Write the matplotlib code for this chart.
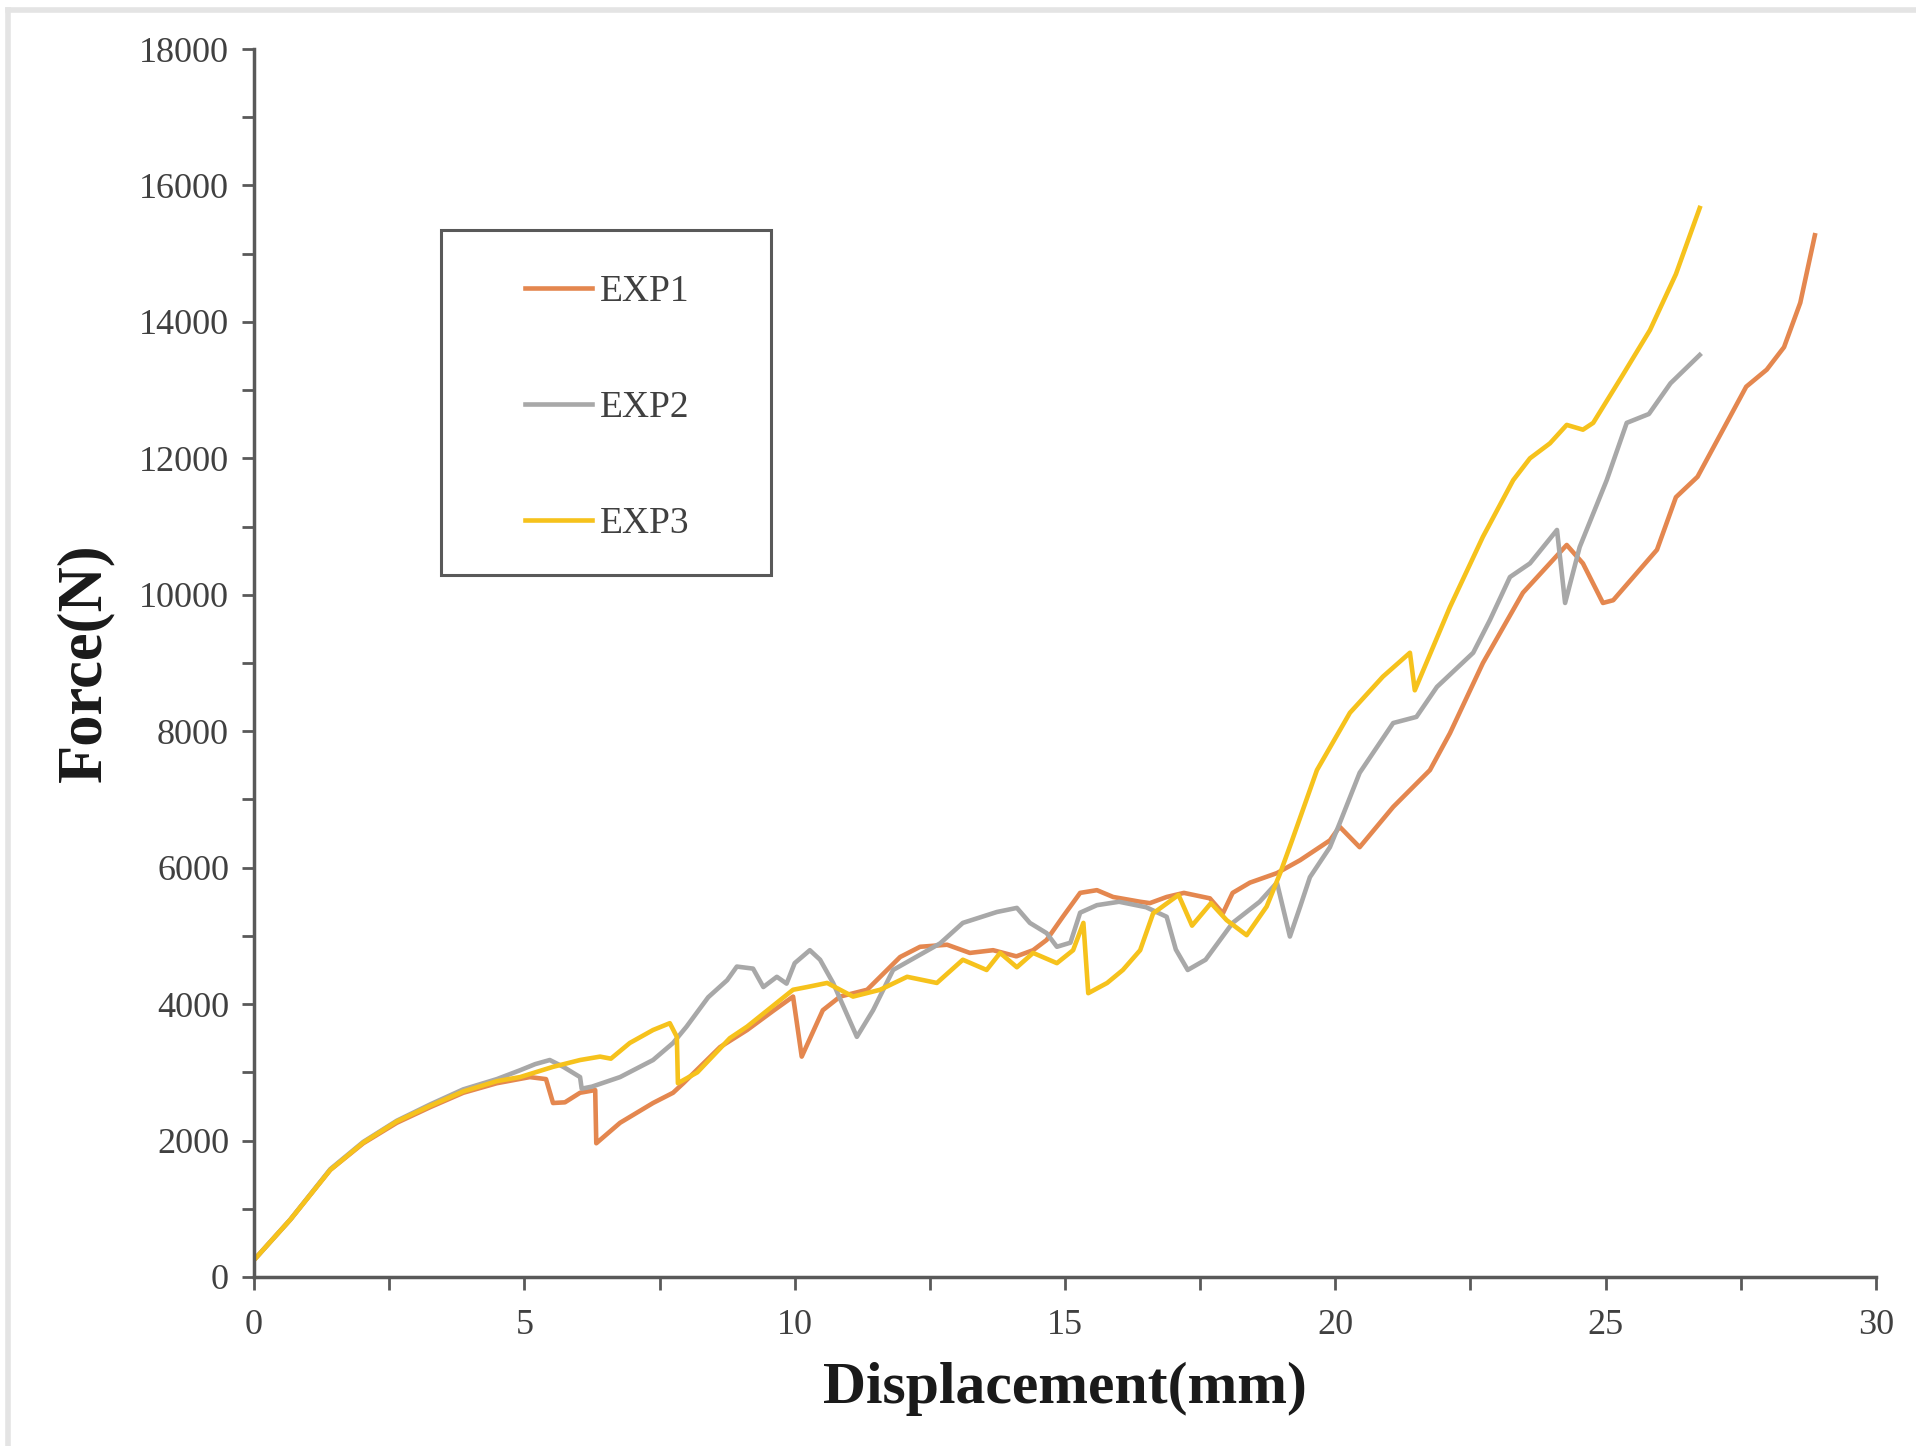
import numpy as np
import matplotlib
matplotlib.use("Agg")
import matplotlib.pyplot as plt
from matplotlib.lines import Line2D

plt.rcParams['font.family'] = ['Liberation Serif', 'DejaVu Serif']

# Force-displacement curves
exp1_x = [0.0, 0.67, 1.41, 2.02, 2.64, 3.26, 3.87, 4.49, 5.1, 5.4, 5.53, 5.75, 6.03, 6.31,
          6.33, 6.77, 7.38, 7.75, 7.94, 8.62, 9.12, 9.6, 9.97, 10.13, 10.52, 10.84, 11.34,
          11.95, 12.32, 12.82, 13.24, 13.67, 14.1, 14.41, 14.66, 14.96, 15.28, 15.59, 15.89,
          16.39, 16.57, 16.88, 17.2, 17.68, 17.92, 18.1, 18.42, 18.92, 19.35, 19.9, 20.08,
          20.45, 21.07, 21.75, 22.12, 22.73, 23.47, 24.28, 24.58, 24.95, 25.14, 25.95, 26.3,
          26.7, 27.6, 27.98, 28.3, 28.6, 28.87]
exp1_y = [250, 840, 1570, 1960, 2260, 2490, 2700, 2840, 2930, 2900, 2550, 2560, 2700, 2740,
          1960, 2260, 2550, 2700, 2840, 3370, 3620, 3900, 4110, 3230, 3910, 4110, 4210,
          4690, 4840, 4870, 4750, 4790, 4700, 4790, 4940, 5280, 5630, 5670, 5570,
          5500, 5480, 5570, 5630, 5550, 5330, 5630, 5780, 5920, 6110, 6400, 6600,
          6300, 6890, 7430, 7970, 9000, 10030, 10730, 10460, 9880, 9920, 10660, 11430,
          11730, 13050, 13300, 13630, 14280, 15270]

exp2_x = [0.0, 0.67, 1.41, 2.02, 2.64, 3.26, 3.87, 4.49, 4.92, 5.2, 5.47, 5.72, 6.03, 6.06,
          6.25, 6.77, 7.38, 7.75, 8.0, 8.4, 8.75, 8.93, 9.23, 9.42, 9.67, 9.85, 10.0, 10.28,
          10.47, 10.71, 11.15, 11.45, 11.82, 12.69, 13.11, 13.74, 14.11, 14.35, 14.66, 14.85,
          15.1, 15.28, 15.59, 16.0, 16.5, 16.88, 17.05, 17.27, 17.6, 18.1, 18.6, 18.92, 19.16,
          19.35, 19.53, 19.9, 20.08, 20.45, 21.07, 21.5, 21.88, 22.55, 22.86, 23.23, 23.6,
          24.1, 24.25, 24.52, 25.02, 25.39, 25.8, 26.2, 26.74]
exp2_y = [250, 840, 1580, 1980, 2290, 2530, 2750, 2900, 3030, 3120, 3180, 3080, 2930, 2760,
          2790, 2930, 3180, 3430, 3670, 4100, 4350, 4550, 4520, 4250, 4400, 4300, 4600, 4790,
          4650, 4310, 3520, 3910, 4500, 4890, 5190, 5350, 5410, 5190, 5040, 4840,
          4900, 5340, 5450, 5500, 5420, 5280, 4800, 4500, 4650, 5190, 5500, 5780, 4990,
          5430, 5860, 6300, 6650, 7390, 8120, 8210, 8650, 9150, 9630, 10260, 10460,
          10950, 9880, 10700, 11680, 12520, 12650, 13100, 13515]

exp3_x = [0.0, 0.67, 1.41, 2.02, 2.64, 3.26, 3.87, 4.49, 4.92, 5.53, 6.03, 6.4, 6.6, 6.95,
          7.38, 7.69, 7.82, 7.84, 8.2, 8.8, 9.12, 9.97, 10.23, 10.6, 11.08, 11.58, 12.08,
          12.63, 13.11, 13.55, 13.8, 14.11, 14.41, 14.85, 15.15, 15.34, 15.43, 15.78, 16.07,
          16.39, 16.63, 17.1, 17.35, 17.7, 17.99, 18.36, 18.73, 18.98, 19.2, 19.66, 20.27,
          20.88, 21.38, 21.47, 22.12, 22.73, 23.29, 23.6, 23.97, 24.28, 24.58, 24.77, 25.3,
          25.82, 26.3, 26.74]
exp3_y = [250, 840, 1570, 1970, 2280, 2510, 2720, 2870, 2930, 3080, 3180, 3230, 3200, 3430,
          3620, 3720, 3520, 2840, 3000, 3500, 3670, 4210, 4250, 4310, 4110, 4210, 4400,
          4310, 4650, 4500, 4750, 4540, 4750, 4600, 4790, 5190, 4160, 4310, 4500,
          4790, 5330, 5600, 5150, 5480, 5230, 5010, 5430, 5920, 6400, 7430, 8270,
          8800, 9150, 8600, 9820, 10850, 11680, 12000, 12220, 12490, 12420, 12520, 13200,
          13880, 14700, 15670]

labels = ['EXP1', 'EXP2', 'EXP3']
colors = ['#E4874F', '#A8A8A8', '#F6C21C']

fig = plt.figure(figsize=(19.16, 14.46), dpi=100)
ax = fig.add_axes([0.1326, 0.1169, 0.8465, 0.8492])

ax.plot(exp1_x, exp1_y, color=colors[0], lw=3.3)
ax.plot(exp2_x, exp2_y, color=colors[1], lw=3.3)
ax.plot(exp3_x, exp3_y, color=colors[2], lw=3.3)

ax.set_xlim(0, 30)
ax.set_ylim(0, 18000)

xt = np.arange(0, 30.1, 2.5)
ax.set_xticks(xt)
ax.set_xticklabels([str(int(v)) if v % 5 == 0 else '' for v in xt])
yt = np.arange(0, 18001, 1000)
ax.set_yticks(yt)
ax.set_yticklabels([str(int(v)) if v % 2000 == 0 else '' for v in yt])

for s in ['top', 'right']:
    ax.spines[s].set_visible(False)
for s in ['left', 'bottom']:
    ax.spines[s].set_color('#595959')
    ax.spines[s].set_linewidth(2.5)
ax.tick_params(axis='both', direction='out', length=9, width=2, color='#595959',
               labelcolor='#404040', labelsize=26)
ax.tick_params(axis='x', pad=14)
ax.tick_params(axis='y', pad=9)

ax.set_xlabel('Displacement(mm)', fontsize=43, fontweight='bold', color='#1a1a1a', labelpad=14)
ax.set_ylabel('Force(N)', fontsize=45, fontweight='bold', color='#1a1a1a', labelpad=18)

# legend with a hand-placed frame
handles = [Line2D([], [], color=c, lw=3.3) for c in colors]
leg = ax.legend(handles, labels, loc='upper left', bbox_to_anchor=(0.167, 0.816),
                frameon=False, borderpad=0, borderaxespad=0, fontsize=27,
                labelspacing=2.17, handlelength=1.8, handletextpad=0.2, labelcolor='#404040')
ax.add_patch(plt.Rectangle((0.115, 0.572), 0.204, 0.281, transform=ax.transAxes,
                           fill=False, edgecolor='#595959', lw=2.2, clip_on=False))

# faint border of the original screenshot
fig.add_artist(Line2D([0.004, 1.0], [0.993, 0.993], color='#e4e4e4', lw=4))
fig.add_artist(Line2D([0.004, 0.004], [0.0, 0.993], color='#e4e4e4', lw=4))

fig.savefig('out.png', dpi=100)
